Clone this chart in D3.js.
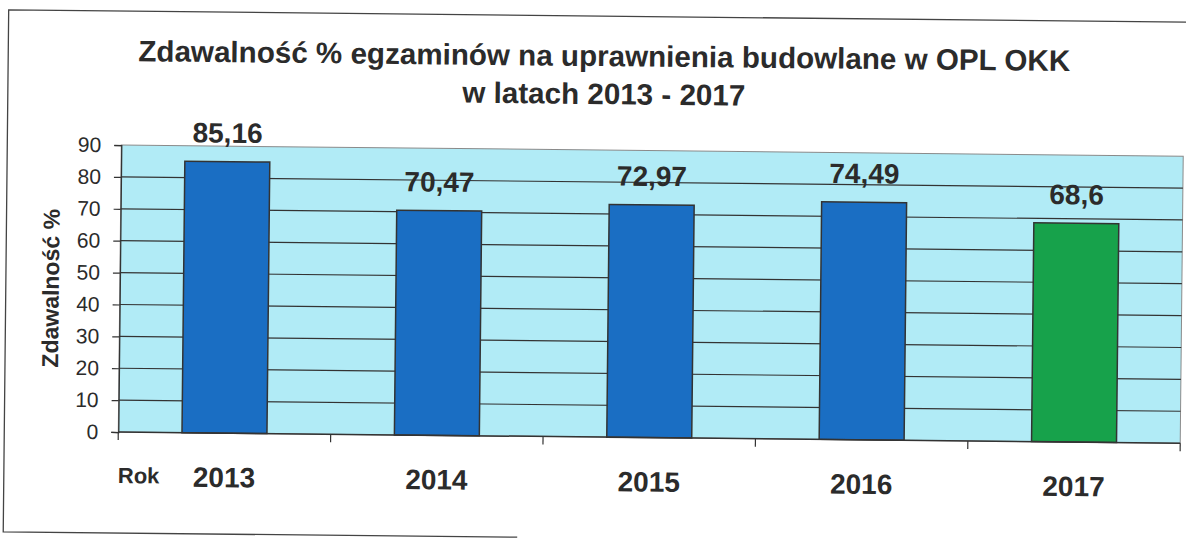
<!DOCTYPE html>
<html>
<head>
<meta charset="utf-8">
<script src="https://cdn.jsdelivr.net/npm/d3@7"></script>
<style>
  body { margin: 0; background: #fff; }
  svg { display: block; }
</style>
</head>
<body>
<svg id="chart" width="1186" height="539"></svg>
<script>
// data
const years = ["2013", "2014", "2015", "2016", "2017"]
const passRate = [85.16, 70.47, 72.97, 74.49, 68.6]
const rateLabels = ["85,16", "70,47", "72,97", "74,49", "68,6"]
const yTicks = [0, 10, 20, 30, 40, 50, 60, 70, 80, 90]
const titleLines = ["Zdawalność % egzaminów na uprawnienia budowlane w OPL OKK", "w latach 2013 - 2017"]

const font = "'Liberation Sans', Arial, sans-serif"
const ink = "#2b2b2b"
const blue = "#1a6ec3"
const green = "#17a24b"

const plot = {left: 120, right: 1182, top: 150, bottom: 437}

const svg = d3.select("#chart")
// the scan sits slightly crooked, so the whole page is turned a little
const root = svg.append("g").attr("transform", "rotate(0.6 593 270)")

// frame of the page (right side and most of the bottom fall off the scan)
root.append("path")
    .attr("d", "M520,538 H6 V16 H1200")
    .attr("fill", "none")
    .attr("stroke", "#444")
    .attr("stroke-width", 1.3)

const x = d3.scaleBand()
    .domain(years)
    .range([plot.left, plot.right])
    .paddingInner(0.6)
    .paddingOuter(0.3)

const y = d3.scaleLinear()
    .domain([0, 90])
    .range([plot.bottom, plot.top])

// plot background
root.append("rect")
    .attr("x", plot.left)
    .attr("y", plot.top)
    .attr("width", plot.right - plot.left)
    .attr("height", plot.bottom - plot.top)
    .attr("fill", "#b1ebf6")
    .attr("stroke", "#8a8a8a")
    .attr("stroke-width", 1)

// grid lines
root.append("g")
    .selectAll("line")
    .data(yTicks.filter(d => d > 0 && d < 90))
    .join("line")
      .attr("x1", plot.left)
      .attr("x2", plot.right)
      .attr("y1", d => y(d))
      .attr("y2", d => y(d))
      .attr("stroke", "#333")
      .attr("stroke-width", 1.2)

// bars
root.append("g")
    .selectAll("rect")
    .data(passRate)
    .join("rect")
      .attr("x", (d, i) => x(years[i]))
      .attr("y", d => y(d))
      .attr("width", x.bandwidth())
      .attr("height", d => y(0) - y(d))
      .attr("fill", (d, i) => i === years.length - 1 ? green : blue)
      .attr("stroke", "#333")
      .attr("stroke-width", 1.5)

// value labels
root.append("g")
    .selectAll("text")
    .data(passRate)
    .join("text")
      .attr("x", (d, i) => x(years[i]) + x.bandwidth() / 2)
      .attr("y", d => y(d) - 19)
      .attr("text-anchor", "middle")
      .attr("font-family", font)
      .attr("font-weight", "bold")
      .attr("font-size", 28)
      .attr("fill", ink)
      .text((d, i) => rateLabels[i])

// y axis
const yAxis = root.append("g")
    .attr("transform", `translate(${plot.left},0)`)
    .call(d3.axisLeft(y).tickValues(yTicks).tickSize(7).tickPadding(13))
yAxis.select(".domain").attr("stroke", "#333").attr("stroke-width", 1.3)
yAxis.selectAll(".tick line").attr("stroke", "#333").attr("stroke-width", 1.2)
yAxis.selectAll(".tick text")
    .attr("font-family", font)
    .attr("font-size", 21)
    .attr("fill", ink)

// x axis: ticks sit between the categories
const step = x.step()
const xTicks = years.map(d => x(d) - step * 0.3).concat([plot.right])
root.append("line")
    .attr("x1", plot.left).attr("x2", plot.right)
    .attr("y1", plot.bottom).attr("y2", plot.bottom)
    .attr("stroke", "#333").attr("stroke-width", 1.5)
root.append("g")
    .selectAll("line")
    .data(xTicks)
    .join("line")
      .attr("x1", d => d).attr("x2", d => d)
      .attr("y1", plot.bottom).attr("y2", plot.bottom + 8)
      .attr("stroke", "#333")
      .attr("stroke-width", 1.2)

root.append("g")
    .selectAll("text")
    .data(years)
    .join("text")
      .attr("x", d => x(d) + x.bandwidth() / 2)
      .attr("y", 491)
      .attr("text-anchor", "middle")
      .attr("font-family", font)
      .attr("font-weight", "bold")
      .attr("font-size", 28)
      .attr("fill", ink)
      .text(d => d)

root.append("text")
    .attr("x", 120)
    .attr("y", 488)
    .attr("font-family", font)
    .attr("font-weight", "bold")
    .attr("font-size", 22)
    .attr("fill", ink)
    .text("Rok")

// axis title
root.append("text")
    .attr("transform", "translate(59,294) rotate(-90)")
    .attr("text-anchor", "middle")
    .attr("font-family", font)
    .attr("font-weight", "bold")
    .attr("font-size", 23)
    .attr("fill", ink)
    .text("Zdawalność %")

// chart title
root.append("g")
    .selectAll("text")
    .data(titleLines)
    .join("text")
      .attr("x", 602)
      .attr("y", (d, i) => 66 + i * 38)
      .attr("text-anchor", "middle")
      .attr("font-family", font)
      .attr("font-weight", "bold")
      .attr("font-size", 29.6)
      .attr("fill", ink)
      .text(d => d)
</script>
</body>
</html>
